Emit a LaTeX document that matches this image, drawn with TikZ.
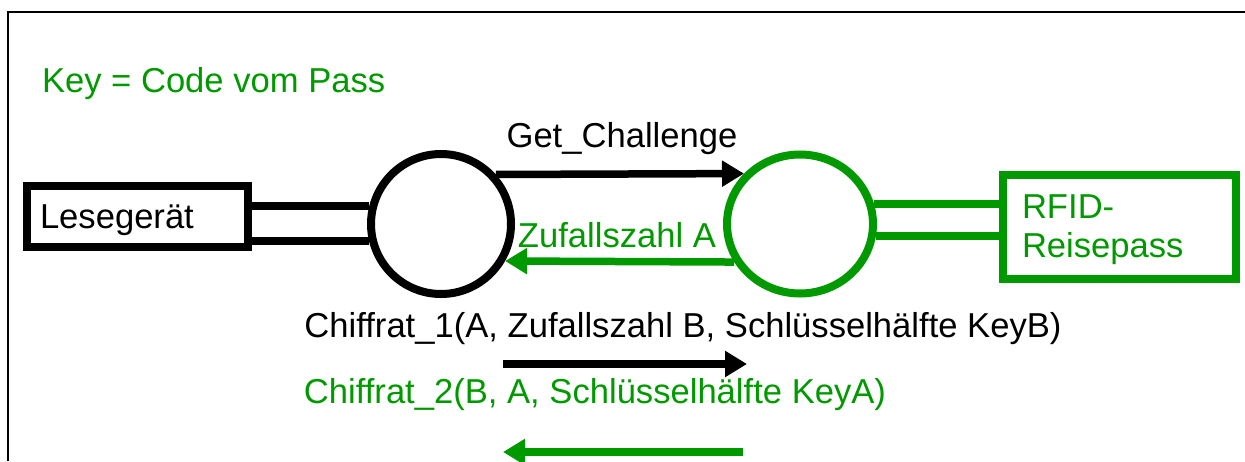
\documentclass[tikz,border=0pt]{standalone}
\usepackage{fontspec}
\setmainfont{Liberation Sans}
\usetikzlibrary{arrows.meta,shapes.geometric}
\definecolor{pgreen}{RGB}{0,153,0}
\tikzset{
  txt/.style={inner sep=0pt, outer sep=0pt, font=\fontsize{34.6}{39}\selectfont},
  boxs/.style={draw, line width=8pt, rectangle, inner sep=0pt},
  ring/.style={draw, line width=8pt, fill=white, inner sep=0pt},
  link/.style={line width=8pt},
  msg/.style={line width=7.5pt, -{Triangle[length=22pt,width=25pt]}},
}
\begin{document}
\begin{tikzpicture}[x=1pt,y=-1pt]
\useasboundingbox (0,0) rectangle (1245,461);
% frame
\draw[line width=2.5pt] (8,461) -- (8,12) -- (1245,12);
% text key
\node[txt, text=pgreen, anchor=base west] (key) at (42,92) {Key = Code vom Pass};
% boxes
\node[boxs, minimum width=221pt, minimum height=61pt] (lese) at (137.5,216.5) {};
\node[txt, anchor=base west] (lesetxt) at (40,228) {Lesegerät};
\node[boxs, draw=pgreen, minimum width=233pt, minimum height=104pt] (rfid) at (1119.5,227) {};
\node[txt, text=pgreen, anchor=base west] (rfid1) at (1022,218) {RFID-};
\node[txt, text=pgreen, anchor=base west] (rfid2) at (1022,257) {Reisepass};
% circles
\node[ring, circle, minimum size=140pt] (L) at (441,224) {};
\node[ring, ellipse, draw=pgreen, minimum width=146pt, minimum height=139pt] (R) at (800,224) {};
% links
\draw[link] (L.166.7 -| lese.east) -- (L.166.7);
\draw[link] (L.193.3 -| lese.east) -- (L.193.3);
\draw[link, pgreen] (R.15.1) -- (R.15.1 -| rfid.west);
\draw[link, pgreen] (R.-9.35) -- (R.-9.35 -| rfid.west);
% messages
\draw[msg] (L.42.5) -- (R.138.4);
\node[txt, anchor=base] (gc) at (622,147) {Get\_Challenge};
\draw[msg, pgreen] (R.210) -- (L.-30.9);
\node[txt, text=pgreen, anchor=base] (zA) at (617,247) {Zufallszahl A};
\node[txt, anchor=base] (c1) at (683,337) {Chiffrat\_1(A, Zufallszahl B, Schlüsselhälfte KeyB)};
\coordinate (c1s) at (503,364);
\coordinate (c1e) at (747,364);
\draw[msg] (c1s) -- (c1e);
\node[txt, text=pgreen, anchor=base] (c2) at (595,403) {Chiffrat\_2(B, A, Schlüsselhälfte KeyA)};
\coordinate (c2s) at (743,452);
\coordinate (c2e) at (503,452);
\draw[msg, pgreen] (c2s) -- (c2e);
\end{tikzpicture}
\end{document}
